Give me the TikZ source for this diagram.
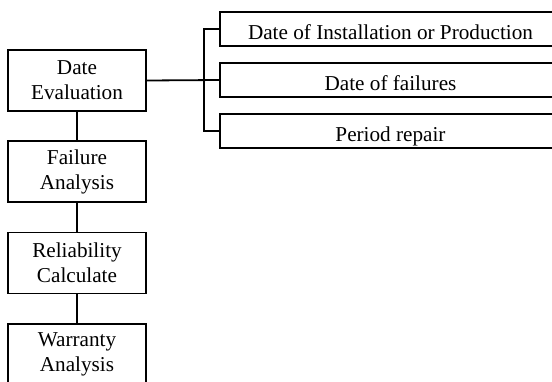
\documentclass[tikz,border=0pt]{standalone}
\usepackage{fontspec}
\setmainfont{Liberation Serif}

\begin{document}
\begin{tikzpicture}[x=0.5pt, y=-0.5pt,
    line width=0.9pt,
    font=\fontsize{10.6}{12.5}\selectfont,
    stage/.style={rectangle,draw,minimum width=69pt,minimum height=30.5pt,inner sep=0,align=center},
    item/.style={rectangle,draw,minimum width=170.5pt,minimum height=17pt,inner sep=0,text height=10pt,text depth=0pt}]

    \useasboundingbox (0,0) rectangle (552,381);
    \clip (0,0) rectangle (552,381);

    % main chain
    \node[stage] (eval) at (77,80.5)  {Date\\Evaluation};
    \node[stage] (fail) at (77,171.5) {Failure\\Analysis};
    \node[stage] (rel)  at (77,263)   {Reliability\\Calculate};
    \node[stage] (warr) at (77,354.5) {Warranty\\Analysis};

    \draw (eval) -- (fail);
    \draw (fail) -- (rel);
    \draw (rel) -- (warr);

    % data items
    \node[item] (inst) at (390.5,29)  {Date of Installation or Production};
    \node[item] (dfail) at (390.5,80) {Date of failures};
    \node[item] (rep) at (390.5,131)  {Period repair};

    \coordinate (fork) at (204,80);
    \draw (eval.east) -- (dfail.west);
    \draw (inst.west) -| (fork) |- (rep.west);
\end{tikzpicture}
\end{document}
